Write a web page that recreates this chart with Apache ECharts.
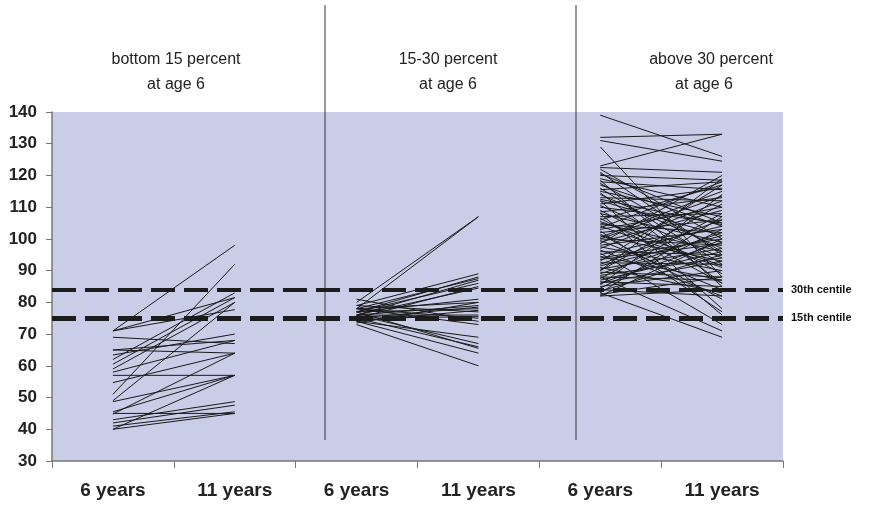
<!DOCTYPE html>
<html>
<head>
<meta charset="utf-8">
<script src="https://cdn.jsdelivr.net/npm/echarts@6/dist/echarts.min.js"></script>
<style>
html, body { margin: 0; padding: 0; background: #fff; }
#main { width: 872px; height: 505px; }
</style>
</head>
<body>
<div id="main"></div>
<script>
// x axis categories
var categories = ['6 years', '11 years', '6 years', '11 years', '6 years', '11 years'];
var yTicks = [30, 40, 50, 60, 70, 80, 90, 100, 110, 120, 130, 140];

// bottom 15 percent at age 6
var bottomAge6  = [71, 71, 71, 69, 65, 65, 63.4, 62, 60.5, 59, 58, 57, 54.7, 51, 49, 48.7, 45.5, 45, 44.8, 43, 42, 41, 40, 40];
var bottomAge11 = [98, 81.5, 77.7, 67, 68, 64, 70, 83, 81.5, 80, 68, 57, 64, 92, 80, 57, 57, 45, 64, 48.7, 47.6, 45.5, 57, 45];

// 15-30 percent at age 6
var midAge6  = [80, 78, 79, 77, 78, 76, 77, 75, 76, 77, 78, 76, 75, 77, 74, 79, 76, 75, 78, 74, 76, 75, 77, 74, 73, 78, 81, 73.5];
var midAge11 = [107, 107, 89, 88, 87.5, 87, 86, 85, 84.5, 81, 80, 79, 78.5, 78, 77.5, 77, 76, 75.5, 75, 69, 67, 66, 65.5, 64, 60, 73, 74, 80];

// above 30 percent at age 6
var topAge6 = [139, 132, 131, 129, 123, 122.5, 122, 121, 120, 119, 118.5, 118, 117, 116, 115.5, 115, 114, 113, 112, 112,
  111, 110.5, 110, 109, 108.5, 108, 107, 106.5, 106, 105, 104.5, 104, 103, 102.5, 102, 101, 100.5, 100, 99.5, 99,
  98, 97.5, 97, 96, 95.5, 95, 94.5, 94, 93, 92.5, 92, 91, 90.5, 90, 89.5, 89, 88.5, 88, 87.5, 87,
  86.5, 86, 85.5, 85, 84.5, 84, 83.5, 83, 83, 82.5, 82, 82, 101.5, 114.5, 108, 98.5, 120.5, 96.5, 90, 86,
  112.5, 105.5, 100, 93.5, 117.5, 103.5, 91.5, 88];
var topAge11 = [126, 133, 124.5, 88, 133, 121, 100, 95, 118.5, 110, 85, 115.5, 104, 92, 118, 107, 97, 112, 78, 101,
  116, 94, 105, 89, 113, 99, 108, 86, 117, 96, 102, 91, 110, 77, 106, 93, 115, 98, 84, 109,
  103, 90, 112, 95, 73, 104, 87, 100, 117, 92, 106, 83, 97, 111, 88, 102, 94, 71, 108, 96,
  85, 99, 114, 90, 103, 82, 95, 69, 107, 88, 84, 100, 81, 86, 76, 120, 105, 82, 119, 93,
  104.5, 91.5, 113.5, 98.5, 96, 118, 101, 87];

// reference centiles
var centiles = [
  { value: 84, name: '30th centile' },
  { value: 75, name: '15th centile' }
];

var groups = [
  { start: 0, age6: bottomAge6, age11: bottomAge11 },
  { start: 2, age6: midAge6, age11: midAge11 },
  { start: 4, age6: topAge6, age11: topAge11 }
];

var chart = echarts.init(document.getElementById('main'));
var series = [];

groups.forEach(function (g) {
  for (var i = 0; i < g.age6.length; i++) {
    series.push({
      type: 'line',
      silent: true,
      symbol: 'none',
      lineStyle: { color: '#1a1a1a', width: 1 },
      data: [[g.start, g.age6[i]], [g.start + 1, g.age11[i]]]
    });
  }
});

// dashed centile lines
series.push({
  type: 'line',
  data: [],
  markLine: {
    silent: true,
    symbol: 'none',
    animation: false,
    data: centiles.map(function (c, idx) {
      return {
        yAxis: c.value,
        name: c.name,
        lineStyle: { color: '#1c1c1c', width: idx === 0 ? 4 : 5, type: [24, 9] },
        label: {
          show: true,
          position: 'end',
          distance: 8,
          formatter: c.name,
          color: '#111',
          fontSize: 11,
          fontWeight: 'bold',
          fontFamily: 'Liberation Sans, Arial, sans-serif'
        }
      };
    })
  }
});

var font = 'Liberation Sans, Arial, sans-serif';

var option = {
  animation: false,
  grid: {
    left: 52, right: 89, top: 112, bottom: 44,
    show: true,
    backgroundColor: '#c9cde7',
    borderWidth: 0
  },
  xAxis: {
    type: 'category',
    data: categories,
    boundaryGap: true,
    axisLine: { lineStyle: { color: '#777', width: 1.5 } },
    axisTick: { show: true, length: 7, lineStyle: { color: '#777' } },
    axisLabel: { color: '#222', fontSize: 19, fontWeight: 'bold', fontFamily: font, margin: 20 },
    splitLine: { show: false }
  },
  yAxis: {
    type: 'value',
    min: yTicks[0],
    max: yTicks[yTicks.length - 1],
    interval: 10,
    axisLine: { show: true, lineStyle: { color: '#777', width: 1.5 } },
    axisTick: { show: true, length: 6, lineStyle: { color: '#777' } },
    axisLabel: { color: '#222', fontSize: 17, fontWeight: 'bold', fontFamily: font, margin: 15 },
    splitLine: { show: false }
  },
  graphic: [
    { type: 'line', silent: true, shape: { x1: 325, y1: 5, x2: 325, y2: 440 }, style: { stroke: '#333', lineWidth: 1 } },
    { type: 'line', silent: true, shape: { x1: 576, y1: 5, x2: 576, y2: 440 }, style: { stroke: '#333', lineWidth: 1 } },
    { type: 'text', x: 176, y: 60, style: { text: 'bottom 15 percent', font: '16px ' + font, fill: '#222', textAlign: 'center', textVerticalAlign: 'middle' } },
    { type: 'text', x: 176, y: 85, style: { text: 'at age 6', font: '16px ' + font, fill: '#222', textAlign: 'center', textVerticalAlign: 'middle' } },
    { type: 'text', x: 448, y: 60, style: { text: '15-30 percent', font: '16px ' + font, fill: '#222', textAlign: 'center', textVerticalAlign: 'middle' } },
    { type: 'text', x: 448, y: 85, style: { text: 'at age 6', font: '16px ' + font, fill: '#222', textAlign: 'center', textVerticalAlign: 'middle' } },
    { type: 'text', x: 711, y: 60, style: { text: 'above 30 percent', font: '16px ' + font, fill: '#222', textAlign: 'center', textVerticalAlign: 'middle' } },
    { type: 'text', x: 704, y: 85, style: { text: 'at age 6', font: '16px ' + font, fill: '#222', textAlign: 'center', textVerticalAlign: 'middle' } }
  ],
  series: series
};

chart.setOption(option);
</script>
</body>
</html>
